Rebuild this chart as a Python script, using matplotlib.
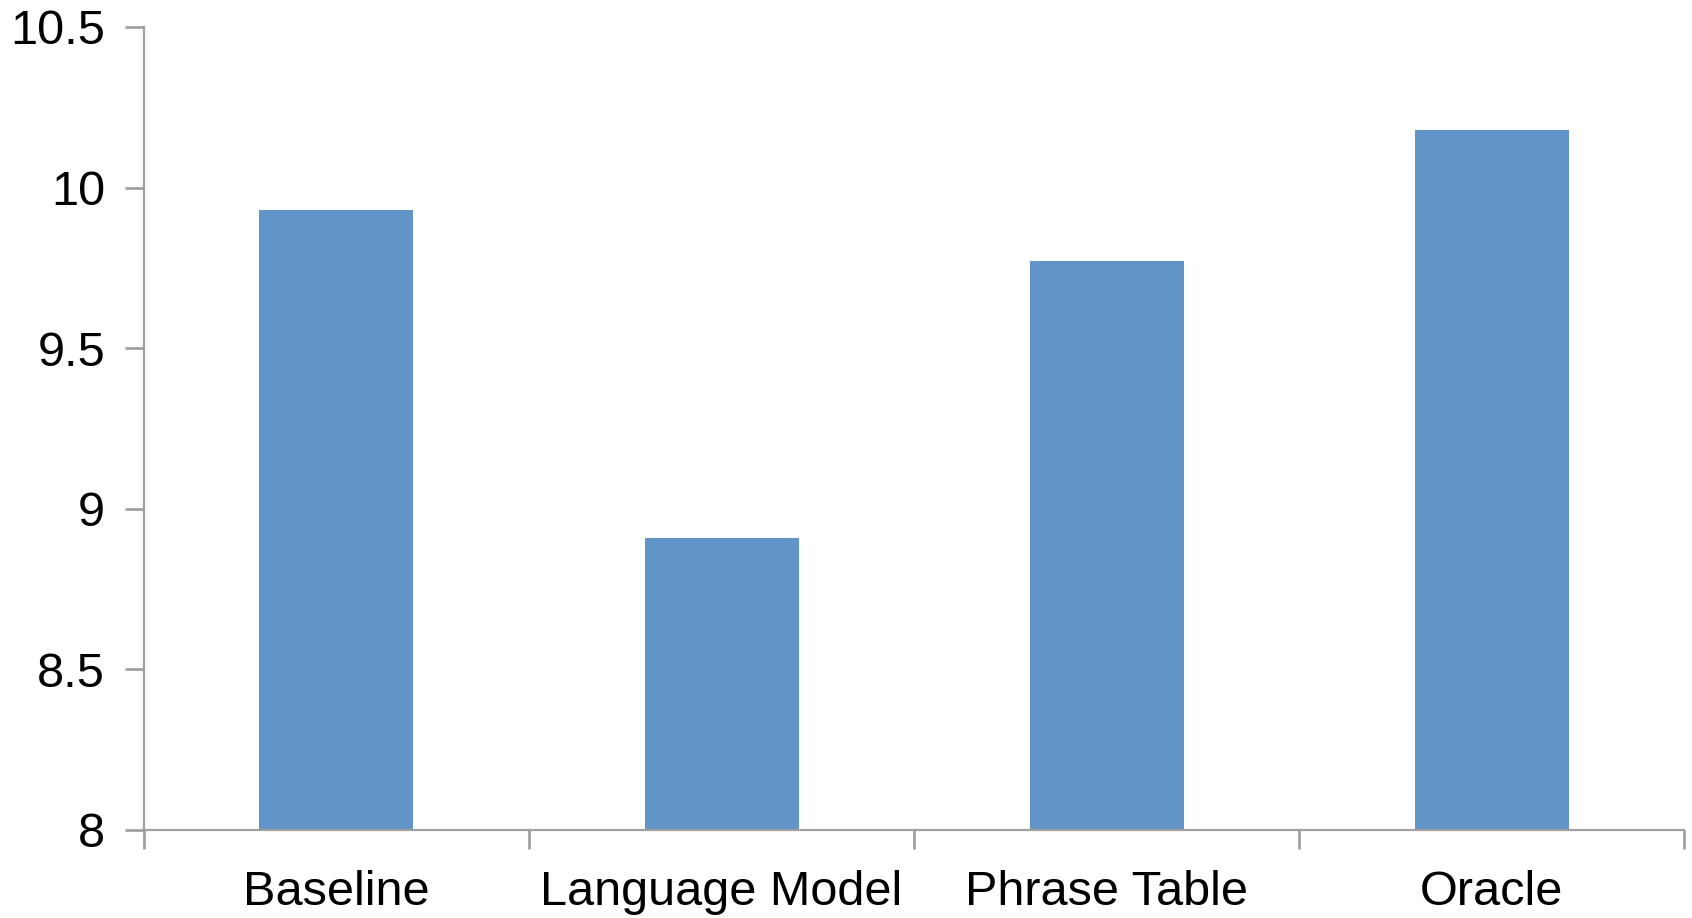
import numpy as np
from matplotlib import pyplot as plt

systems = ['Baseline', 'Language Model', 'Phrase Table', 'Oracle']  # x categories
scores = [9.93, 8.91, 9.77, 10.18]  # bar heights
y_ticks = [8, 8.5, 9, 9.5, 10, 10.5]
y_tick_labels = ['8', '8.5', '9', '9.5', '10', '10.5']

plt.rcParams['font.family'] = ['Liberation Sans', 'DejaVu Sans']
axis_grey = '#a0a0a0'

fig = plt.figure(figsize=(16.92, 9.18), dpi=100)
ax = fig.add_axes([0.0851, 0.0959, 0.9102, 0.8747])

x = np.arange(len(systems))
ax.bar(x, scores, width=0.4, color='#6195c8', zorder=2)

ax.set_xlim(-0.5, len(systems) - 0.5)
ax.set_ylim(8, 10.5)

# category labels centred, tick marks on the boundaries between categories
ax.set_xticks(x)
ax.set_xticklabels(systems, fontsize=35)
ax.tick_params(axis='x', which='major', length=0, pad=29)
ax.set_xticks(np.arange(-0.5, len(systems)), minor=True)
ax.tick_params(axis='x', which='minor', length=14, width=2, color=axis_grey, direction='out')

ax.set_yticks(y_ticks)
ax.set_yticklabels(y_tick_labels, fontsize=35)
ax.tick_params(axis='y', length=14, width=2, color=axis_grey, direction='out', pad=14)

for side in ['top', 'right']:
    ax.spines[side].set_visible(False)
for side in ['left', 'bottom']:
    ax.spines[side].set_color(axis_grey)
    ax.spines[side].set_linewidth(1.6)

fig.savefig('out.png', dpi=100)
